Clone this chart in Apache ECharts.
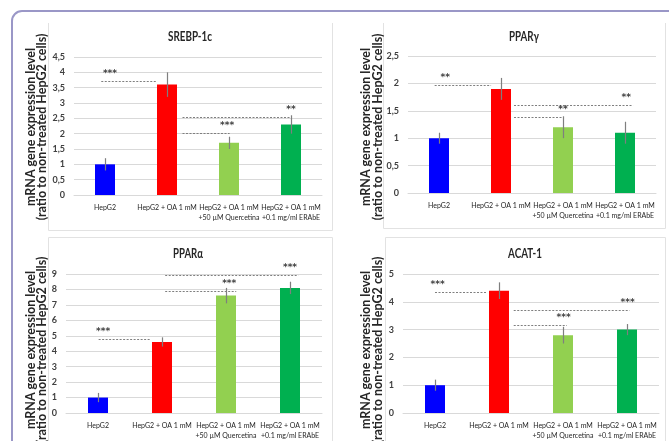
<!DOCTYPE html>
<html>
<head>
<meta charset="utf-8">
<script src="https://cdn.jsdelivr.net/npm/echarts@6/dist/echarts.min.js"></script>
<style>
  html, body { margin: 0; padding: 0; background: #ffffff; }
  #chart { width: 669px; height: 441px; }
</style>
</head>
<body>
<div id="chart"></div>
<script>
// Treatment groups shared by all four panels
const categories = [
  'HepG2',
  'HepG2 + OA 1 mM',
  'HepG2 + OA 1 mM\n+50 µM Quercetina',
  'HepG2 + OA 1 mM\n+0.1 mg/ml ERAbE'
];

// Relative mRNA expression (mean) and error (± SD) per gene
const srebpValues = [1.0, 3.6, 1.7, 2.3];
const srebpErrors = [0.2, 0.4, 0.2, 0.3];
const ppargValues = [1.0, 1.9, 1.2, 1.1];
const ppargErrors = [0.1, 0.2, 0.2, 0.2];
const pparaValues = [1.0, 4.6, 7.6, 8.1];
const pparaErrors = [0.3, 0.3, 0.5, 0.4];
const acatValues  = [1.0, 4.4, 2.8, 3.0];
const acatErrors  = [0.2, 0.3, 0.3, 0.2];

// Significance brackets: [from, to, level, asterisk position, stars]
// from / to / asterisk position are in category units (0 = first group centre)
const srebpSig = [
  [-0.06, 0.84, 3.72, 0.08, '***'],
  [1.25, 3.0, 2.55, 3.0, '**'],
  [1.25, 2.01, 2.01, 1.97, '***']
];
const ppargSig = [
  [-0.07, 0.84, 1.97, 0.1, '**'],
  [1.21, 3.13, 1.61, 3.02, '**'],
  [1.21, 2.0, 1.38, 2.0, '**']
];
const pparaSig = [
  [0.01, 0.83, 4.78, 0.08, '***'],
  [1.05, 2.16, 7.87, 2.05, '***'],
  [1.05, 3.13, 8.96, 3.0, '***']
];
const acatSig = [
  [0.0, 0.82, 4.36, 0.04, '***'],
  [1.23, 3.04, 3.70, 3.01, '***'],
  [1.23, 2.06, 3.16, 2.01, '***']
];

// Axis ranges per panel
const srebpAxis = { max: 4.5, interval: 0.5 };
const ppargAxis = { max: 2.5, interval: 0.5 };
const pparaAxis = { max: 9, interval: 1 };
const acatAxis  = { max: 5, interval: 1 };

const panelTitles = ['SREBP-1c', 'PPARγ', 'PPARα', 'ACAT-1'];
const yTitleLines = ['mRNA gene expression level', '(ratio to non-treated HepG2 cells)'];

const FONT = "Lato, sans-serif";
const STAR_FONT = "bold 9px 'DejaVu Sans', sans-serif";
const barPalette = ['#0000ff', '#ff0000', '#92d050', '#00b050'];
const gridColor = '#d9d9d9';
const frameColor = '#e2e2e2';

// Horizontal squeeze so wide fonts fit a given run length
const measureCtx = document.createElement('canvas').getContext('2d');
function squeezeTo(text, font, targetWidth) {
  measureCtx.font = font;
  const w = measureCtx.measureText(text).width;
  return Math.min(1, targetWidth / w);
}

const panels = [
  { values: srebpValues, errors: srebpErrors, sig: srebpSig, axis: srebpAxis,
    grid: { left: 74, top: 57, width: 248, height: 138 } },
  { values: ppargValues, errors: ppargErrors, sig: ppargSig, axis: ppargAxis,
    grid: { left: 408, top: 56, width: 248, height: 137 } },
  { values: pparaValues, errors: pparaErrors, sig: pparaSig, axis: pparaAxis,
    grid: { left: 66, top: 274, width: 256, height: 139 } },
  { values: acatValues, errors: acatErrors, sig: acatSig, axis: acatAxis,
    grid: { left: 403, top: 274, width: 256, height: 139 } }
];

const grids = [], xAxes = [], yAxes = [], series = [];

panels.forEach((p, i) => {
  grids.push(Object.assign({ containLabel: false, outerBoundsMode: 'none' }, p.grid));

  xAxes.push({
    type: 'category',
    gridIndex: i,
    data: categories,
    axisLine: { show: true, lineStyle: { color: gridColor, width: 1 } },
    axisTick: { show: false },
    axisLabel: {
      interval: 0,
      margin: 8,
      fontFamily: FONT,
      fontSize: 7,
      lineHeight: 10,
      color: '#262626'
    }
  });

  yAxes.push({
    type: 'value',
    gridIndex: i,
    min: 0,
    max: p.axis.max,
    interval: p.axis.interval,
    axisLine: { show: false },
    axisTick: { show: false },
    splitLine: { show: true, lineStyle: { color: gridColor, width: 1 } },
    axisLabel: {
      margin: 9,
      fontFamily: FONT,
      fontSize: 9,
      fontWeight: 'bold',
      color: '#404040',
      formatter: v => String(v).replace('.', ',')
    }
  });

  series.push({
    type: 'bar',
    xAxisIndex: i,
    yAxisIndex: i,
    barWidth: 20,
    data: p.values,
    itemStyle: { color: params => barPalette[params.dataIndex] },
    emphasis: { disabled: true },
    z: 2
  });

  const errs = p.errors;
  series.push({
    type: 'custom',
    xAxisIndex: i,
    yAxisIndex: i,
    data: p.values.map((v, k) => [k, v - errs[k], v + errs[k]]),
    encode: { x: 0, y: [1, 2] },
    renderItem: (params, api) => {
      const lo = api.coord([api.value(0), api.value(1)]);
      const hi = api.coord([api.value(0), api.value(2)]);
      const x = Math.round(lo[0]) + 0.5;
      return {
        type: 'line',
        shape: { x1: x, y1: lo[1], x2: x, y2: hi[1] },
        style: { stroke: '#7f7f7f', lineWidth: 1.2 }
      };
    },
    silent: true,
    z: 3
  });

  const sig = p.sig;
  series.push({
    type: 'custom',
    xAxisIndex: i,
    yAxisIndex: i,
    data: sig.map(s => [0, s[2]]),
    encode: { x: 0, y: 1 },
    renderItem: (params, api) => {
      const s = sig[params.dataIndex];
      const base = api.coord([0, s[2]]);
      const band = api.size([1, 0])[0];
      const y = Math.round(base[1]) + 0.5;
      return {
        type: 'group',
        children: [
          {
            type: 'line',
            shape: { x1: base[0] + s[0] * band, y1: y, x2: base[0] + s[1] * band, y2: y },
            style: { stroke: '#7f7f7f', lineWidth: 1, lineDash: [2, 1.5] }
          },
          {
            type: 'text',
            x: base[0] + s[3] * band,
            y: y - 7.5,
            style: {
              text: s[4],
              align: 'center',
              verticalAlign: 'middle',
              font: STAR_FONT,
              fill: '#404040'
            }
          }
        ]
      };
    },
    silent: true,
    z: 4
  });
});

// Panel frames, titles and rotated y-axis titles
const graphics = [
  { type: 'rect', shape: { x: 12, y: 11, width: 720, height: 520, r: 10 },
    style: { fill: 'none', stroke: '#9a97c7', lineWidth: 2 }, silent: true },
  { type: 'polyline', shape: { points: [[48.5, 23], [48.5, 230.5], [332.5, 230.5], [332.5, 23]] },
    style: { fill: 'none', stroke: frameColor, lineWidth: 1 }, silent: true },
  { type: 'polyline', shape: { points: [[383.5, 23], [383.5, 228.5], [665.5, 228.5], [665.5, 23]] },
    style: { fill: 'none', stroke: frameColor, lineWidth: 1 }, silent: true },
  { type: 'polyline', shape: { points: [[48.5, 445], [48.5, 237.5], [332.5, 237.5], [332.5, 445]] },
    style: { fill: 'none', stroke: frameColor, lineWidth: 1 }, silent: true },
  { type: 'polyline', shape: { points: [[385.5, 445], [385.5, 237.5], [665.5, 237.5], [665.5, 445]] },
    style: { fill: 'none', stroke: frameColor, lineWidth: 1 }, silent: true }
];

const titleFont = 'bold 13px ' + FONT;
const yTitleFont = 'bold 12.5px ' + FONT;
const titlePos = [[190, 37], [524, 37], [188, 254], [525, 254]];
const titleWidths = [44, 30, 30, 34];
// each two-line y title: [x of first line, x of second line, y centre]
const yTitlePos = [[30.5, 42, 127], [366, 377.5, 127], [30.5, 42, 350], [366, 377.5, 350]];
const yScale = [
  squeezeTo(yTitleLines[0], yTitleFont, 160),
  squeezeTo(yTitleLines[1], yTitleFont, 192)
];

panelTitles.forEach((t, i) => {
  graphics.push({
    type: 'text', x: titlePos[i][0], y: titlePos[i][1], silent: true,
    scaleX: squeezeTo(t, titleFont, titleWidths[i]),
    style: { text: t, align: 'center', verticalAlign: 'middle',
             font: titleFont, fill: '#262626' }
  });
  yTitleLines.forEach((line, k) => {
    graphics.push({
      type: 'text', x: yTitlePos[i][k], y: yTitlePos[i][2],
      rotation: Math.PI / 2, scaleX: yScale[k], silent: true,
      style: { text: line, align: 'center', verticalAlign: 'middle',
               font: yTitleFont, fill: '#262626' }
    });
  });
});

const chart = echarts.init(document.getElementById('chart'), null, { renderer: 'canvas' });
chart.setOption({
  animation: false,
  backgroundColor: '#ffffff',
  grid: grids,
  xAxis: xAxes,
  yAxis: yAxes,
  series: series,
  graphic: graphics
});
</script>
</body>
</html>
